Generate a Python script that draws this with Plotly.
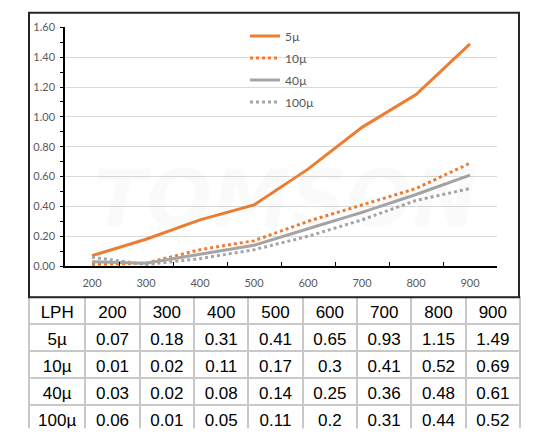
#!/usr/bin/env python3
"""
Pressure drop vs flow (LPH) for four filter grades, line chart with the data table below.
"""

import plotly.graph_objects as go

flow_lph = [200, 300, 400, 500, 600, 700, 800, 900]
series_names = ["5µ", "10µ", "40µ", "100µ"]
drop_5 = [0.07, 0.18, 0.31, 0.41, 0.65, 0.93, 1.15, 1.49]
drop_10 = [0.01, 0.02, 0.11, 0.17, 0.3, 0.41, 0.52, 0.69]
drop_40 = [0.03, 0.02, 0.08, 0.14, 0.25, 0.36, 0.48, 0.61]
drop_100 = [0.06, 0.01, 0.05, 0.11, 0.2, 0.31, 0.44, 0.52]
y_ticks = [0.0, 0.2, 0.4, 0.6, 0.8, 1.0, 1.2, 1.4, 1.6]

W, H = 550, 440


def px_x(p):
    return p / W


def px_y(p):
    return 1 - p / H


def create_figure():
    fig = go.Figure()

    orange = "#ED7D31"
    gray = "#A5A5A5"
    styles = [
        (orange, "solid"),
        (orange, "dot"),
        (gray, "solid"),
        (gray, "dot"),
    ]
    all_series = [drop_5, drop_10, drop_40, drop_100]
    cats = [str(v) for v in flow_lph]

    for i, (name, vals) in enumerate(zip(series_names, all_series)):
        color, dash = styles[i]
        fig.add_trace(
            go.Scatter(
                x=cats,
                y=vals,
                mode="lines",
                name=name,
                legendgroup=name,
                line=dict(color=color, width=3, dash=dash),
            )
        )

    # Data table under the chart
    header_vals = ["LPH"] + cats
    cell_cols = [series_names] + [
        [str(s[j]) for s in all_series] for j in range(len(flow_lph))
    ]
    fig.add_trace(
        go.Table(
            domain=dict(x=[px_x(29), px_x(520)], y=[px_y(434), px_y(299)]),
            columnwidth=[56] + [54] * len(flow_lph),
            header=dict(
                values=header_vals,
                align="center",
                height=27,
                fill_color="white",
                line=dict(color="#C8C8C8", width=2),
                font=dict(family="Liberation Sans, Arial", size=17, color="black"),
            ),
            cells=dict(
                values=cell_cols,
                align="center",
                height=27,
                fill_color="white",
                line=dict(color="#C8C8C8", width=2),
                font=dict(family="Liberation Sans, Arial", size=17, color="black"),
            ),
        )
    )

    tick_font = dict(family="Lato, Open Sans", size=11, color="#595959")

    fig.update_layout(
        width=W,
        height=H,
        margin=dict(l=0, r=0, t=0, b=0),
        paper_bgcolor="white",
        plot_bgcolor="white",
        showlegend=True,
        legend=dict(
            x=px_x(245),
            y=px_y(15),
            xanchor="left",
            yanchor="top",
            bgcolor="rgba(0,0,0,0)",
            font=dict(family="Lato, Open Sans", size=12, color="#595959"),
            tracegroupgap=3,
        ),
        xaxis=dict(
            domain=[px_x(65), px_x(497)],
            type="category",
            range=[-0.5, len(flow_lph) - 0.5],
            tickson="boundaries",
            ticks="inside",
            ticklen=4,
            tickcolor="black",
            ticklabelstandoff=6,
            showline=True,
            linecolor="black",
            linewidth=1.5,
            showgrid=False,
            zeroline=False,
            tickfont=tick_font,
        ),
        yaxis=dict(
            domain=[px_y(267), px_y(21)],
            range=[0, 1.6],
            tickvals=y_ticks,
            tickformat=".2f",
            ticks="outside",
            ticklen=3,
            tickcolor="black",
            ticklabelstandoff=3,
            minor=dict(dtick=0.1, ticks="outside", ticklen=3, tickcolor="black"),
            showline=True,
            linecolor="black",
            linewidth=1.5,
            gridcolor="#D9D9D9",
            gridwidth=1,
            zeroline=False,
            tickfont=tick_font,
        ),
    )

    # Faint watermark
    fig.add_annotation(
        text="<b><i>TOMSON</i></b>",
        xref="paper", yref="paper",
        x=px_x(285), y=px_y(198),
        showarrow=False,
        font=dict(family="DejaVu Sans", size=78, color="rgba(0,0,0,0.02)"),
    )
    fig.add_annotation(
        text="<b><i>MOTORSPORT</i></b>",
        xref="paper", yref="paper",
        x=px_x(345), y=px_y(258),
        showarrow=False,
        font=dict(family="DejaVu Sans", size=16, color="rgba(0,0,0,0.02)"),
    )

    # Black frame around the chart area
    fig.add_shape(
        type="rect",
        xref="paper", yref="paper",
        x0=px_x(29), x1=px_x(519), y0=px_y(299), y1=px_y(6),
        line=dict(color="#262626", width=2),
        layer="above",
    )

    return fig


def main():
    fig = create_figure()
    # drop the default page margin so the figure sits at the window corner
    fig.write_html(
        "out.html",
        config={"displayModeBar": False},
        post_script="document.body.style.margin='0';",
    )


if __name__ == "__main__":
    main()
